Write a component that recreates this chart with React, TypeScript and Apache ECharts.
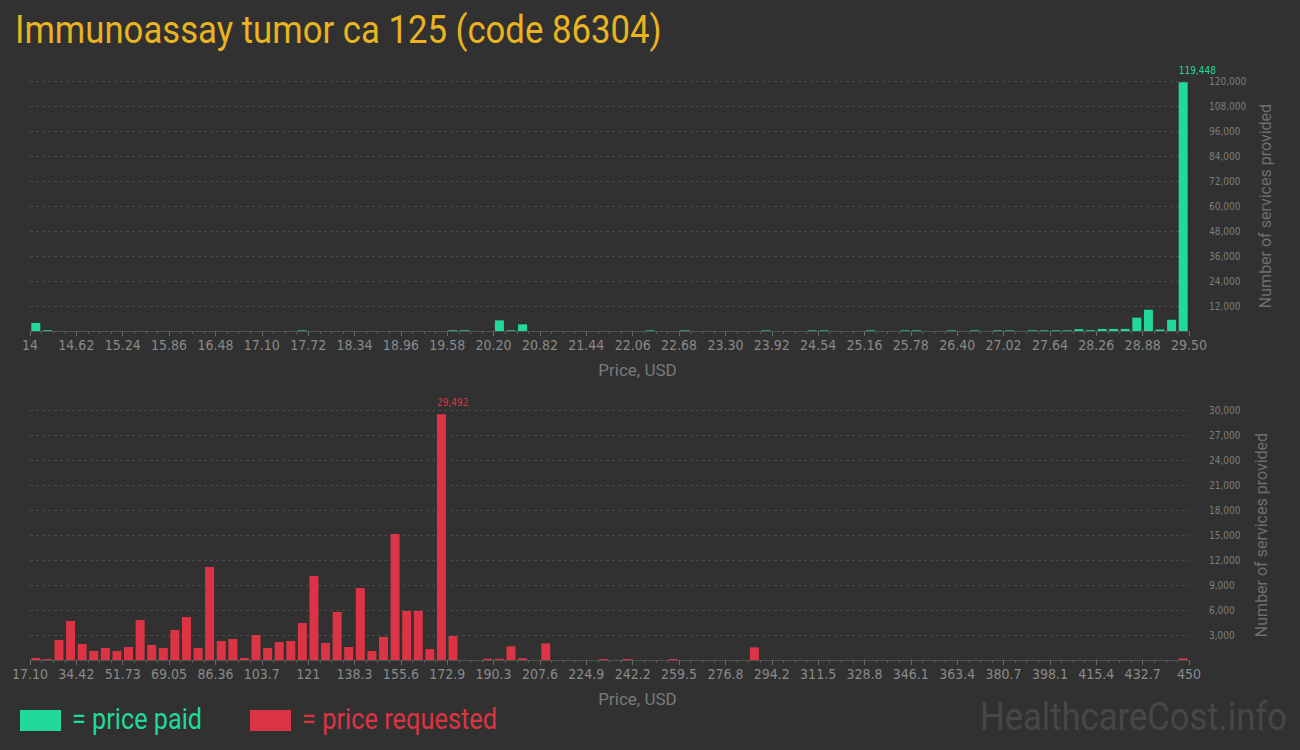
import React, { useEffect, useRef } from "react";
import * as echarts from "echarts";

const titleText = "Immunoassay tumor ca 125 (code 86304)";
const xAxisName = "Price, USD";
const yAxisName = "Number of services provided";

const paidTicks = [
  "14", "14.62", "15.24", "15.86", "16.48", "17.10", "17.72", "18.34", "18.96", "19.58",
  "20.20", "20.82", "21.44", "22.06", "22.68", "23.30", "23.92", "24.54", "25.16", "25.78",
  "26.40", "27.02", "27.64", "28.26", "28.88", "29.50",
];
const requestedTicks = [
  "17.10", "34.42", "51.73", "69.05", "86.36", "103.7", "121", "138.3", "155.6", "172.9",
  "190.3", "207.6", "224.9", "242.2", "259.5", "276.8", "294.2", "311.5", "328.8", "346.1",
  "363.4", "380.7", "398.1", "415.4", "432.7", "450",
];

// number of services per price bin (100 bins each)
const paidBins = [
  3800, 400, 0, 0, 0, 0, 0, 0, 0, 0,
  0, 0, 0, 0, 0, 0, 0, 0, 0, 0,
  0, 0, 0, 300, 0, 0, 0, 0, 0, 0,
  0, 0, 0, 0, 0, 0, 350, 350, 0, 0,
  5100, 350, 3200, 0, 0, 0, 0, 0, 0, 0,
  0, 0, 0, 300, 0, 0, 300, 0, 0, 0,
  0, 0, 0, 300, 0, 0, 0, 300, 300, 0,
  0, 0, 300, 0, 0, 300, 300, 0, 0, 300,
  0, 300, 0, 300, 300, 0, 300, 300, 300, 300,
  900, 400, 1000, 1000, 1000, 6400, 10200, 700, 5400, 119448,
];
const requestedBins = [
  240, 120, 2400, 4680, 1920, 1080, 1440, 1080, 1560, 4800,
  1800, 1440, 3600, 5160, 1440, 11160, 2280, 2520, 240, 3000,
  1440, 2160, 2280, 4440, 10080, 2040, 5760, 1560, 8640, 1080,
  2760, 15120, 5880, 5880, 1320, 29492, 2880, 0, 0, 150,
  150, 1640, 200, 0, 2000, 0, 0, 0, 0, 120,
  0, 120, 0, 0, 0, 120, 0, 0, 0, 0,
  0, 0, 1520, 0, 0, 0, 0, 0, 0, 0,
  0, 0, 0, 0, 0, 0, 0, 0, 0, 0,
  0, 0, 0, 0, 0, 0, 0, 0, 0, 0,
  0, 0, 0, 0, 0, 0, 0, 0, 0, 200,
];
const binNames = paidBins.map((_, i) => "bin " + (i + 1));

const paidMax = { max: 120000, interval: 12000 };
const requestedMax = { max: 30000, interval: 3000 };

const GREEN = "#21d99b";
const RED = "#dc3444";
const GOLD = "#e9b41f";
const BG = "#313131";
const NARROW = "'Liberation Sans Narrow', 'DejaVu Sans Condensed', 'Roboto', sans-serif";

function fmt(v: number) {
  return v.toLocaleString("en-US");
}

export default function App() {
  const ref = useRef<HTMLDivElement>(null);
  useEffect(() => {
    document.body.style.margin = "0";
    document.body.style.background = BG;
    const chart = echarts.init(ref.current!, undefined, { renderer: "svg" });

    const grids = [
      { left: 30, right: 111, top: 81, height: 250 },
      { left: 30, right: 111, top: 410, height: 250 },
    ];

    const catAxis = (gi: number) => ({
      type: "category",
      gridIndex: gi,
      data: binNames,
      boundaryGap: true,
      axisLabel: { show: false },
      axisTick: { show: true, interval: 0, length: 3, lineStyle: { color: "#5c5c5c" } },
      axisLine: { show: true, lineStyle: { color: "#505050", width: 1 } },
      splitLine: { show: false },
    });
    const labAxis = (gi: number, ticks: string[]) => ({
      type: "value",
      gridIndex: gi,
      position: "bottom",
      min: 0,
      max: 100,
      interval: 4,
      axisLine: { show: false },
      axisTick: { show: true, length: 5, lineStyle: { color: "#6a6a6a" } },
      splitLine: { show: false },
      axisLabel: {
        formatter: (v: number) => ticks[Math.round(v / 4)] ?? "",
        color: "#8a8a8a",
        fontFamily: NARROW,
        fontSize: 14,
        margin: 7,
        showMinLabel: true,
        showMaxLabel: true,
      },
      name: xAxisName,
      nameLocation: "middle",
      nameGap: 30,
      nameTextStyle: { color: "#7a7a7a", fontFamily: "Roboto", fontSize: 17, padding: [0, 0, 0, 56] },
    });
    const yAxis = (gi: number, m: { max: number; interval: number }) => ({
      type: "value",
      gridIndex: gi,
      position: "right",
      min: 0,
      max: m.max,
      interval: m.interval,
      axisLine: { show: false },
      axisTick: { show: false },
      splitLine: { show: true, lineStyle: { color: "#4a4a4a", type: [3, 3], width: 1 } },
      axisLabel: {
        formatter: (v: number) => (v === 0 ? "" : fmt(v)),
        color: "#7d7d7d",
        fontFamily: NARROW,
        fontSize: 10,
        margin: 20,
      },
      name: yAxisName,
      nameLocation: "middle",
      nameRotate: 90,
      nameGap: 64,
      nameTextStyle: { color: "#6e6e6e", fontFamily: "Roboto", fontSize: 16 },
    });

    const barSeries = (gi: number, data: number[], color: string) => {
      const mx = Math.max(...data);
      return {
        type: "bar",
        xAxisIndex: gi * 2,
        yAxisIndex: gi,
        data,
        barWidth: 9,
        itemStyle: { color },
        label: {
          show: true,
          position: "top",
          distance: 7,
          align: "left",
          offset: [-4.5, 0],
          color,
          fontFamily: NARROW,
          fontSize: 10,
          formatter: (p: any) => (p.value === mx ? fmt(p.value) : ""),
        },
      };
    };

    chart.setOption({
      animation: false,
      backgroundColor: BG,
      grid: grids,
      xAxis: [catAxis(0), labAxis(0, paidTicks), catAxis(1), labAxis(1, requestedTicks)],
      yAxis: [yAxis(0, paidMax), yAxis(1, requestedMax)],
      series: [barSeries(0, paidBins, GREEN), barSeries(1, requestedBins, RED)],
      graphic: [
        {
          type: "text",
          left: 15,
          top: 10,
          scaleX: 0.89,
          style: { text: titleText, fill: GOLD, font: "39px Roboto" },
        },
        { type: "rect", shape: { x: 20, y: 710, width: 41, height: 21 }, style: { fill: GREEN } },
        {
          type: "text",
          x: 72,
          y: 705,
          scaleX: 0.87,
          style: { text: "= price paid", fill: GREEN, font: "29px Roboto" },
        },
        { type: "rect", shape: { x: 250, y: 710, width: 41, height: 21 }, style: { fill: RED } },
        {
          type: "text",
          x: 302,
          y: 705,
          scaleX: 0.875,
          style: { text: "= price requested", fill: RED, font: "29px Roboto" },
        },
        {
          type: "text",
          x: 980,
          y: 698,
          scaleX: 0.91,
          style: { text: "HealthcareCost.info", fill: "#474747", font: "38px Roboto" },
        },
      ],
    });
    return () => chart.dispose();
  }, []);
  return <div ref={ref} style={{ width: 1300, height: 750, background: BG }} />;
}
